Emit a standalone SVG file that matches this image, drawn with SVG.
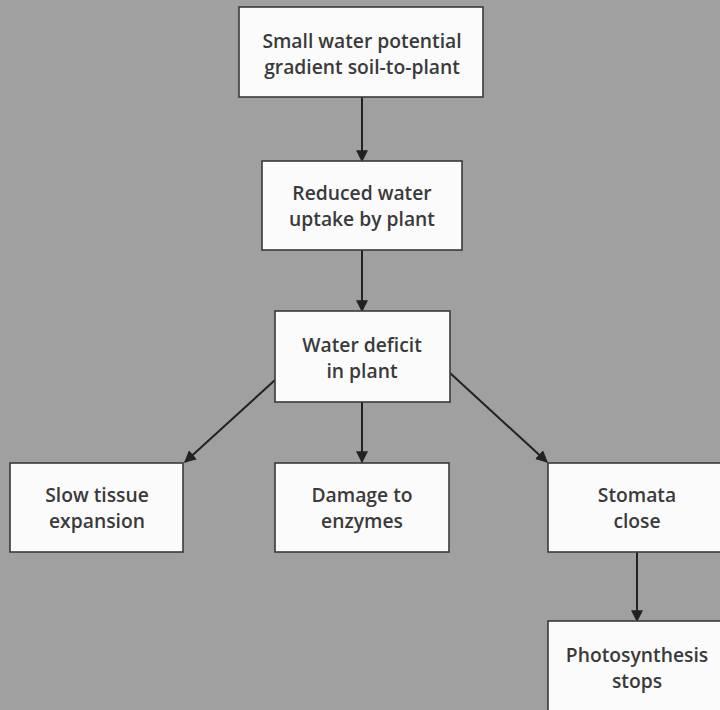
<svg xmlns="http://www.w3.org/2000/svg" width="720" height="710" viewBox="0 0 720 710">
<defs>
<style>
.box{fill:#fbfbfb;stroke:#3a3a3a;stroke-width:1.6}
.t{font-family:"Open Sans","Noto Sans","Liberation Sans",sans-serif;font-size:19.3px;font-weight:600;fill:#3a3a3a;text-anchor:middle}
.c{stroke:#222;stroke-width:2;fill:none;marker-end:url(#ah)}
</style>
<marker id="ah" viewBox="0 0 10 10" refX="9" refY="5" markerWidth="6" markerHeight="6" orient="auto" markerUnits="strokeWidth">
<path d="M0,0 L10,5 L0,10 z" fill="#222"/>
</marker>
</defs>
<rect width="720" height="710" fill="#a0a0a0"/>
<g id="connectors">
<line class="c" x1="362" y1="97" x2="362" y2="161"/>
<line class="c" x1="362" y1="250" x2="362" y2="311"/>
<line class="c" x1="275" y1="380" x2="185" y2="462"/>
<line class="c" x1="362" y1="402" x2="362" y2="462"/>
<line class="c" x1="450" y1="373" x2="547" y2="462"/>
<line class="c" x1="637" y1="552" x2="637" y2="621"/>
</g>
<g id="n1"><rect class="box" x="239" y="7" width="244" height="90"/><text class="t" x="362" y="48">Small water potential</text><text class="t" x="362" y="74">gradient soil-to-plant</text></g>
<g id="n2"><rect class="box" x="262" y="161" width="200" height="89"/><text class="t" x="362" y="200">Reduced water</text><text class="t" x="362" y="226">uptake by plant</text></g>
<g id="n3"><rect class="box" x="275" y="311" width="175" height="91"/><text class="t" x="362" y="352">Water deficit</text><text class="t" x="362" y="378">in plant</text></g>
<g id="n4"><rect class="box" x="10" y="463" width="173" height="89"/><text class="t" x="97" y="502">Slow tissue</text><text class="t" x="97" y="528">expansion</text></g>
<g id="n5"><rect class="box" x="275" y="463" width="174" height="89"/><text class="t" x="362" y="502">Damage to</text><text class="t" x="362" y="528">enzymes</text></g>
<g id="n6"><rect class="box" x="548" y="463" width="176" height="89"/><text class="t" x="637" y="502">Stomata</text><text class="t" x="637" y="528">close</text></g>
<g id="n7"><rect class="box" x="548" y="621" width="176" height="93"/><text class="t" x="637" y="662">Photosynthesis</text><text class="t" x="637" y="688">stops</text></g>
</svg>
